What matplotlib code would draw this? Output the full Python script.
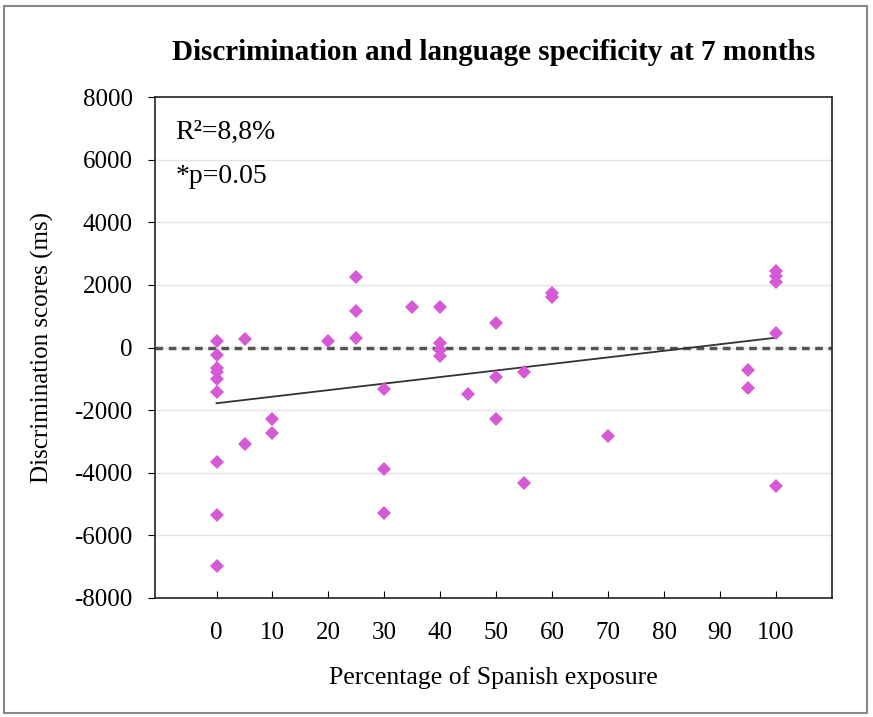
import numpy as np
import matplotlib
matplotlib.use("Agg")
import matplotlib.pyplot as plt
from matplotlib.patches import Rectangle

# Spanish exposure (%) and discrimination score (ms) per infant
exposure = [0, 0, 0, 0, 0, 0, 0, 0, 0,
            5, 5,
            10, 10,
            20,
            25, 25, 25,
            30, 30, 30,
            35,
            40, 40, 40, 40,
            45,
            50, 50, 50,
            55, 55,
            60, 60,
            70,
            95, 95,
            100, 100, 100, 100, 100]
scores = [200, -240, -660, -780, -1000, -1420, -3660, -5350, -6980,
          270, -3080,
          -2290, -2730,
          210,
          2250, 1170, 310,
          -1330, -3880, -5290,
          1290,
          1290, 140, -80, -270,
          -1490,
          780, -940, -2290,
          -780, -4330,
          1740, 1610,
          -2830,
          -720, -1290,
          2450, 2280, 2090, 460, -4420]

x_ticks = [0, 10, 20, 30, 40, 50, 60, 70, 80, 90, 100]
y_ticks = [-8000, -6000, -4000, -2000, 0, 2000, 4000, 6000, 8000]

plt.rcParams['font.family'] = ['Liberation Serif', 'DejaVu Serif']
plt.rcParams['axes.unicode_minus'] = False

fig = plt.figure(figsize=(8.73, 7.17), dpi=100)
ax = fig.add_axes([155/873, 1 - 598/717, (832-155)/873, (598-97)/717])

# light horizontal grid
for y in y_ticks[1:-1]:
    ax.axhline(y, color='#e4e4e4', lw=1, zorder=0)

# zero reference
ax.axhline(0, color='#555555', lw=2.5, ls=(0, (2.2, 1.6)), zorder=1)

# linear trend over the observed range
slope, intercept = np.polyfit(exposure, scores, 1)
fit_x = np.array([min(exposure), max(exposure)])
ax.plot(fit_x, slope * fit_x + intercept, color='#333333', lw=1.3, zorder=2)

ax.plot(exposure, scores, ls='none', marker='D', markersize=7.5,
        color='#d65ad6', markeredgewidth=0, zorder=3)

ax.set_xlim(-11, 110)
ax.set_ylim(-8000, 8000)
ax.set_xticks(x_ticks)
ax.set_yticks(y_ticks)
ax.tick_params(axis='x', direction='in', length=5, pad=17, labelsize=18)
ax.tick_params(axis='y', direction='out', length=5, pad=11, labelsize=18)
for s in ax.spines.values():
    s.set_linewidth(1.2)
    s.set_color('#222222')

ax.set_xlabel('Percentage of Spanish exposure', fontsize=18.5, labelpad=16)
ax.set_ylabel('Discrimination scores (ms)', fontsize=18, labelpad=15)
ax.set_title('Discrimination and language specificity at 7 months',
             fontsize=21, fontweight='bold', pad=27, x=0.5)

ax.text(-7.4, 6880, 'R²=8,8%', fontsize=20, va='center')
ax.text(-7.4, 5450, '*p=0.05', fontsize=20, va='center')

# outer frame
fig.patches.append(Rectangle((4/873, 4/717), 1 - 10/873, 1 - 10/717,
                             transform=fig.transFigure, fill=False,
                             edgecolor='#888888', lw=1.5))

fig.savefig('out.png', dpi=100)
